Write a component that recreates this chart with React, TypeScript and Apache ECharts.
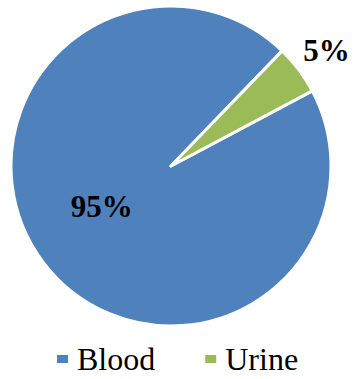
import React, { useEffect, useRef } from "react";
import * as echarts from "echarts";

const categories = ["Blood", "Urine"];
const values = [95, 5];
const colors = ["#4F81BD", "#9BBB59"];

const SERIF = "Times New Roman";

export default function App() {
  const ref = useRef<HTMLDivElement>(null);

  useEffect(() => {
    if (!ref.current) return;
    const chart = echarts.init(ref.current, undefined, { renderer: "svg" });
    chart.setOption({
      animation: false,
      backgroundColor: "#ffffff",
      textStyle: { fontFamily: SERIF },
      legend: {
        data: categories,
        left: 55,
        top: 343,
        padding: 0,
        icon: "rect",
        itemWidth: 13,
        itemHeight: 10,
        itemGap: 48,
        textStyle: {
          fontFamily: SERIF,
          fontSize: 32,
          color: "#000",
          padding: [0, 0, 5, 3],
        },
      },
      series: [
        {
          type: "pie",
          center: [171, 166],
          radius: 160,
          startAngle: 28,
          clockwise: true,
          itemStyle: { borderColor: "#ffffff", borderWidth: 3 },
          label: {
            show: true,
            position: "inside",
            formatter: "{c}%",
            fontFamily: SERIF,
            fontWeight: "bold",
            fontSize: 31,
            color: "#000",
            overflow: "none",
          },
          labelLine: { show: false },
          data: categories.map((name, i) => ({
            name,
            value: values[i],
            itemStyle: { color: colors[i] },
            label:
              i === 1
                ? { position: "outside", offset: [-7, -14], overflow: "none" }
                : { offset: [-3, -9] },
            ...(i === 1
              ? { labelLine: { show: false, length: 8, length2: 0 } }
              : {}),
          })),
        },
      ],
    });
    return () => chart.dispose();
  }, []);

  return (
    <div
      ref={ref}
      style={{ position: "fixed", left: 0, top: 0, width: 357, height: 379 }}
    />
  );
}
